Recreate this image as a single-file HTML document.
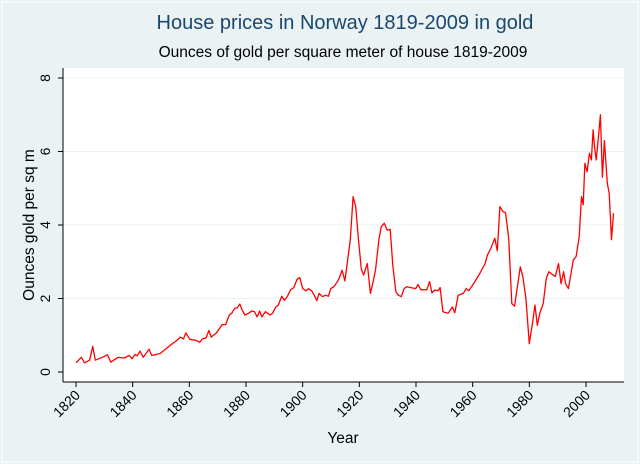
<!DOCTYPE html>
<html><head><meta charset="utf-8"><style>
html,body{margin:0;padding:0;background:#eaf2f3;}
svg{display:block;font-family:"Liberation Sans",sans-serif;}
</style></head><body>
<svg id="chart" width="640" height="464" viewBox="0 0 640 464">
<rect x="0" y="0" width="640" height="464" fill="#eaf2f3"/>
<rect x="2" y="2" width="636" height="460" fill="none" stroke="#ffffff" stroke-width="1"/>
<text x="345" y="29" text-anchor="middle" font-size="20" fill="#1a476f">House prices in Norway 1819-2009 in gold</text>
<text x="343" y="57" text-anchor="middle" font-size="15.5" fill="#000">Ounces of gold per square meter of house 1819-2009</text>
<rect x="63" y="68" width="561" height="314" fill="#ffffff"/>
<g id="grid"></g>
<g id="axes"></g>
<path id="line" fill="none" stroke="#ff0000" stroke-width="1.3" stroke-linejoin="round"/>
<text transform="translate(34,225) rotate(-90)" text-anchor="middle" font-size="15.5" fill="#000">Ounces gold per sq m</text>
<text x="343" y="443" text-anchor="middle" font-size="15.5" fill="#000">Year</text>
</svg>
<script>
const years=[1820.0,1821.9,1823.0,1824.8,1825.9,1826.8,1830.2,1831.1,1832.3,1834.9,1837.0,1838.8,1839.8,1840.8,1841.6,1842.6,1843.7,1845.8,1846.7,1849.6,1851.6,1853.3,1855.3,1856.8,1857.9,1858.8,1860.2,1862.3,1863.7,1864.6,1865.9,1866.9,1867.7,1869.5,1871.6,1872.8,1874.1,1875.0,1876.0,1877.0,1877.8,1878.7,1879.6,1881.0,1882.0,1883.0,1883.9,1884.8,1885.6,1886.8,1887.6,1888.5,1889.4,1890.5,1891.4,1892.6,1893.6,1894.6,1895.7,1896.9,1898.0,1899.0,1900.0,1901.2,1902.1,1903.2,1904.1,1905.0,1905.8,1907.0,1908.1,1909.1,1909.9,1911.0,1912.2,1913.0,1913.9,1914.9,1915.8,1916.8,1917.8,1918.7,1919.7,1920.7,1921.5,1922.8,1923.9,1924.7,1925.7,1926.9,1927.7,1928.8,1929.8,1930.9,1931.8,1932.9,1933.8,1934.8,1935.8,1936.7,1939.9,1940.7,1941.7,1943.8,1944.8,1945.6,1946.6,1947.8,1948.5,1949.5,1951.4,1952.8,1953.7,1954.9,1956.7,1957.7,1958.6,1960.3,1962.5,1964.4,1965.2,1966.4,1967.8,1968.7,1969.6,1970.7,1971.6,1972.7,1973.8,1974.8,1975.6,1976.8,1977.7,1978.8,1980.0,1981.1,1982.0,1982.8,1983.7,1984.9,1986.0,1986.9,1988.0,1989.2,1990.3,1991.2,1992.1,1992.8,1993.8,1994.7,1995.5,1996.5,1997.6,1998.4,1999.0,1999.6,2000.4,2001.2,2001.9,2002.5,2003.0,2003.6,2004.5,2005.1,2005.8,2006.5,2007.5,2008.2,2009.0,2009.7];
const values=[0.25,0.4,0.25,0.32,0.7,0.32,0.43,0.47,0.27,0.4,0.38,0.45,0.36,0.48,0.44,0.57,0.4,0.62,0.45,0.5,0.62,0.73,0.84,0.95,0.9,1.06,0.89,0.86,0.81,0.9,0.93,1.13,0.95,1.06,1.29,1.29,1.55,1.6,1.73,1.75,1.85,1.68,1.55,1.6,1.66,1.64,1.5,1.66,1.5,1.64,1.6,1.55,1.6,1.77,1.82,2.06,1.95,2.06,2.23,2.3,2.52,2.57,2.27,2.21,2.27,2.21,2.09,1.94,2.14,2.05,2.09,2.06,2.27,2.32,2.45,2.57,2.77,2.48,3.0,3.6,4.77,4.5,3.6,2.8,2.64,2.95,2.14,2.4,2.77,3.6,3.95,4.05,3.86,3.88,2.9,2.18,2.09,2.05,2.27,2.32,2.27,2.38,2.24,2.24,2.46,2.15,2.23,2.21,2.3,1.64,1.6,1.77,1.61,2.09,2.14,2.27,2.21,2.4,2.68,2.95,3.18,3.36,3.64,3.3,4.5,4.36,4.34,3.64,1.86,1.79,2.23,2.86,2.6,2.0,0.77,1.32,1.82,1.27,1.6,1.86,2.55,2.73,2.66,2.6,2.95,2.4,2.73,2.4,2.27,2.68,3.05,3.14,3.68,4.77,4.55,5.68,5.45,5.95,5.77,6.59,6.14,5.77,6.5,7.0,5.3,6.3,5.14,4.86,3.6,4.32];
const yTicks=[0,2,4,6,8];
const xTicks=[1820,1840,1860,1880,1900,1920,1940,1960,1980,2000];
const NS="http://www.w3.org/2000/svg";
function xs(v){return 76+(v-1820)*(586-76)/180;}
function ys(v){return 372-v*(372-78)/8;}
const grid=document.getElementById('grid'),axes=document.getElementById('axes');
function mk(tag,attrs,parent){const e=document.createElementNS(NS,tag);for(const k in attrs)e.setAttribute(k,attrs[k]);parent.appendChild(e);return e;}
yTicks.forEach(t=>{
  const y=ys(t);
  if(t>0){const g=mk('line',{x1:63,x2:624,y1:y,y2:y,stroke:'#eaf2f3','stroke-width':1},grid);
  
  }
  const tk=mk('line',{x1:58,x2:63,y1:y,y2:y,stroke:'#000'},axes);
  
  
  const tx=mk('text',{transform:`translate(50,${y}) rotate(-90)`,'text-anchor':'middle','font-size':14},axes);
  tx.textContent=t;
  
  
});
xTicks.forEach(t=>{
  const x=xs(t);
  const tk=mk('line',{x1:x,x2:x,y1:382,y2:387,stroke:'#000'},axes);
  
  
  const tx=mk('text',{transform:`translate(${x+5},${396}) rotate(-45)`,'text-anchor':'end','font-size':14},axes);
  tx.textContent=t;
  
  
});
const ya=mk('line',{x1:63,x2:63,y1:68,y2:382,stroke:'#000'},axes);


const xa=mk('line',{x1:63,x2:624,y1:382,y2:382,stroke:'#000'},axes);


document.getElementById('line').setAttribute('d',years.map((y,i)=>(i?'L':'M')+xs(y).toFixed(1)+','+ys(values[i]).toFixed(1)).join(''));
</script>
</body></html>
